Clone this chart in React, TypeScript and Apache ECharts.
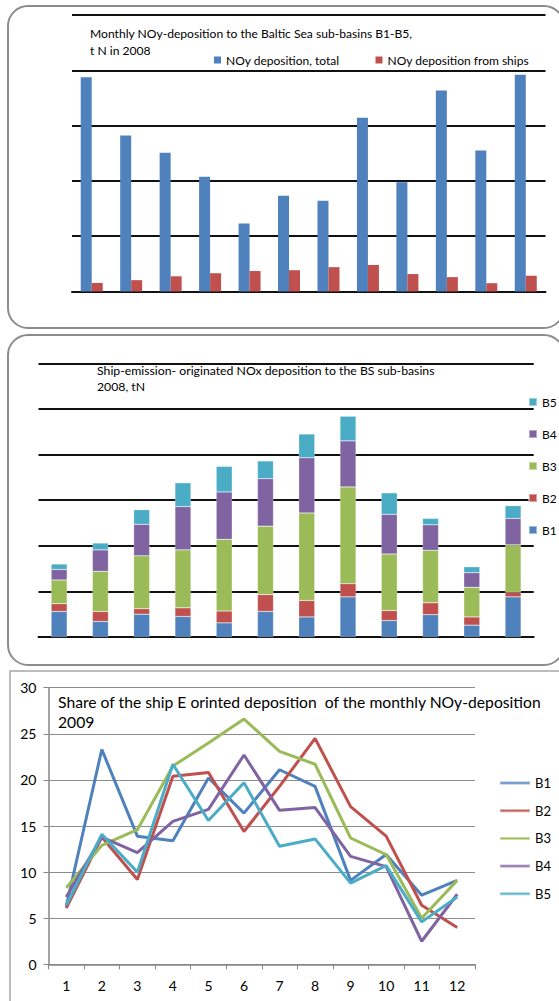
import React, { useEffect, useRef } from "react";
import * as echarts from "echarts";

const months = ["1", "2", "3", "4", "5", "6", "7", "8", "9", "10", "11", "12"];

// Panel 1: monthly NOy deposition, t N (2008)
const totalDep = [7750, 5640, 5020, 4150, 2460, 3460, 3280, 6280, 3950, 7270, 5100, 7840];
const shipDep = [310, 410, 550, 660, 740, 770, 880, 960, 630, 520, 300, 570];

// Panel 2: ship-originated NOx deposition by sub-basin, t N (2008)
const b1Ship = [56, 34, 50, 45, 31, 56, 44, 88, 36, 49, 26, 88];
const b2Ship = [17, 22, 12, 19, 26, 37, 36, 29, 22, 26, 18, 10];
const b3Ship = [52, 88, 116, 127, 157, 150, 192, 212, 124, 115, 65, 104];
const b4Ship = [23, 47, 69, 95, 104, 104, 121, 101, 87, 56, 32, 58];
const b5Ship = [12, 15, 32, 52, 56, 39, 52, 54, 47, 14, 13, 28];

// Panel 3: share of ship-originated deposition, % (2009)
const shareB1 = [6.3, 23.3, 13.9, 13.4, 20.2, 16.4, 21.1, 19.3, 9.1, 11.9, 7.5, 9.1];
const shareB2 = [6.1, 13.8, 9.2, 20.4, 20.8, 14.4, 19.3, 24.5, 17.1, 13.9, 6.4, 4.0];
const shareB3 = [8.3, 12.9, 14.6, 21.5, 24.0, 26.6, 23.1, 21.7, 13.7, 11.9, 5.0, 9.1];
const shareB4 = [7.3, 13.8, 12.1, 15.5, 16.8, 22.7, 16.7, 17.0, 11.7, 10.6, 2.5, 7.6];
const shareB5 = [6.4, 14.1, 10.0, 21.7, 15.6, 19.7, 12.8, 13.6, 8.8, 10.7, 4.6, 7.3];

const basinNames = ["B1", "B2", "B3", "B4", "B5"];
const basinColors = ["#4F81BD", "#C0504D", "#9BBB59", "#8064A2", "#4BACC6"];
const shipStacks = [b1Ship, b2Ship, b3Ship, b4Ship, b5Ship];
const shareSeries = [shareB1, shareB2, shareB3, shareB4, shareB5];

const FONT = "Lato";

export default function App() {
  const ref = useRef<HTMLDivElement>(null);

  useEffect(() => {
    if (!ref.current) return;
    const chart = echarts.init(ref.current, undefined, { renderer: "svg" });

    const blackSplit = { show: true, lineStyle: { color: "#111", width: 2 } };

    const option: any = {
      animation: false,
      textStyle: { fontFamily: FONT },
      title: [
        {
          text: "Monthly NOy-deposition to the Baltic Sea sub-basins B1-B5,\nt N in 2008",
          left: 90,
          top: 24.5,
          padding: 0,
          textStyle: { fontFamily: FONT, fontWeight: "normal", fontSize: 12.1, lineHeight: 17.4, color: "#000" },
        },
        {
          text: "Ship-emission- originated NOx deposition to the BS sub-basins\n2008, tN",
          left: 97,
          top: 362,
          padding: 0,
          textStyle: { fontFamily: FONT, fontWeight: "normal", fontSize: 12.25, lineHeight: 16, color: "#000" },
        },
        {
          text: "Share of the ship E orinted deposition  of the monthly NOy-deposition\n2009",
          left: 58,
          top: 692,
          padding: 0,
          textStyle: { fontFamily: FONT, fontWeight: "normal", fontSize: 15.7, lineHeight: 20, color: "#000" },
        },
      ],
      legend: [
        {
          data: ["NOy deposition, total"],
          left: 214,
          top: 53,
          padding: 0,
          icon: "rect",
          itemWidth: 7,
          itemHeight: 7,
          selectedMode: false,
          textStyle: { fontFamily: FONT, fontSize: 12, lineHeight: 14, color: "#000" },
        },
        {
          data: ["NOy deposition from ships"],
          left: 375.5,
          top: 53,
          padding: 0,
          icon: "rect",
          itemWidth: 7,
          itemHeight: 7,
          selectedMode: false,
          textStyle: { fontFamily: FONT, fontSize: 12, lineHeight: 14, color: "#000" },
        },
        {
          data: ["B5", "B4", "B3", "B2", "B1"],
          orient: "vertical",
          left: 528,
          top: 395,
          padding: 0,
          icon: "rect",
          itemWidth: 8,
          itemHeight: 8,
          itemGap: 18,
          selectedMode: false,
          textStyle: { fontFamily: FONT, fontSize: 12, lineHeight: 14, color: "#000" },
        },
        {
          data: ["B1", "B2", "B3", "B4", "B5"],
          orient: "vertical",
          left: 499,
          top: 776,
          padding: 0,
          icon: "rect",
          itemWidth: 30,
          itemHeight: 3,
          itemGap: 13.7,
          selectedMode: false,
          textStyle: { fontFamily: FONT, fontSize: 13, lineHeight: 14, color: "#000" },
        },
      ],
      grid: [
        { left: 72, top: 15, width: 473.5, height: 276.5 },
        { left: 38.5, top: 363.3, width: 495.2, height: 273.7 },
        { left: 48.5, top: 687.7, width: 426.5, height: 276.6 },
      ],
      xAxis: [
        {
          type: "category",
          gridIndex: 0,
          data: months,
          axisLine: { show: true, lineStyle: { color: "#111", width: 2 } },
          axisTick: { show: false },
          axisLabel: { show: false },
        },
        {
          type: "category",
          gridIndex: 1,
          data: months,
          axisLine: { show: true, lineStyle: { color: "#111", width: 2 } },
          axisTick: { show: false },
          axisLabel: { show: false },
        },
        {
          type: "category",
          gridIndex: 2,
          data: months,
          boundaryGap: true,
          axisLine: { show: true, lineStyle: { color: "#868686", width: 1.5 } },
          axisTick: { show: true, length: 5, lineStyle: { color: "#868686", width: 1 } },
          axisLabel: { show: true, margin: 14, fontFamily: FONT, fontSize: 14, color: "#000" },
        },
      ],
      yAxis: [
        {
          type: "value",
          gridIndex: 0,
          min: 0,
          max: 10000,
          interval: 2000,
          axisLine: { show: false },
          axisTick: { show: false },
          axisLabel: { show: false },
          splitLine: blackSplit,
        },
        {
          type: "value",
          gridIndex: 1,
          min: 0,
          max: 600,
          interval: 100,
          axisLine: { show: false },
          axisTick: { show: false },
          axisLabel: { show: false },
          splitLine: blackSplit,
        },
        {
          type: "value",
          gridIndex: 2,
          min: 0,
          max: 30,
          interval: 5,
          axisLine: { show: true, lineStyle: { color: "#868686", width: 1.5 } },
          axisTick: { show: true, length: 5, lineStyle: { color: "#868686", width: 1 } },
          axisLabel: { show: true, margin: 12, fontFamily: FONT, fontSize: 14, color: "#000" },
          splitLine: { show: true, lineStyle: { color: "#8c8c8c", width: 1 } },
        },
      ],
      series: [
        {
          name: "NOy deposition, total",
          type: "bar",
          xAxisIndex: 0,
          yAxisIndex: 0,
          data: totalDep,
          barWidth: 11,
          barGap: "0%",
          itemStyle: { color: "#4F81BD" },
        },
        {
          name: "NOy deposition from ships",
          type: "bar",
          xAxisIndex: 0,
          yAxisIndex: 0,
          data: shipDep,
          barWidth: 11,
          barGap: "0%",
          itemStyle: { color: "#C0504D" },
        },
        ...shipStacks.map((d, i) => ({
          name: basinNames[i],
          type: "bar",
          xAxisIndex: 1,
          yAxisIndex: 1,
          stack: "ship",
          data: d,
          barWidth: 16,
          itemStyle: { color: basinColors[i], borderColor: "rgba(255,255,255,0.45)", borderWidth: 0.5 },
        })),
        ...shareSeries.map((d, i) => ({
          name: basinNames[i],
          type: "line",
          xAxisIndex: 2,
          yAxisIndex: 2,
          data: d,
          symbol: "none",
          showSymbol: false,
          lineStyle: { color: basinColors[i], width: 3 },
          itemStyle: { color: basinColors[i] },
        })),
      ],
      graphic: [
        {
          type: "rect",
          shape: { x: 8, y: 6, width: 556, height: 322, r: 20 },
          style: { fill: "none", stroke: "#8c8c8c", lineWidth: 2 },
          z: -10,
        },
        {
          type: "rect",
          shape: { x: 8, y: 335, width: 556, height: 330, r: 20 },
          style: { fill: "none", stroke: "#8c8c8c", lineWidth: 2 },
          z: -10,
        },
        {
          type: "rect",
          shape: { x: 10, y: 671, width: 560, height: 345, r: 0 },
          style: { fill: "none", stroke: "#a6a6a6", lineWidth: 1.5 },
          z: -10,
        },
      ],
    };

    chart.setOption(option);
    return () => chart.dispose();
  }, []);

  return (
    <div
      ref={ref}
      style={{ position: "absolute", left: 0, top: 0, width: 559, height: 1001 }}
    />
  );
}
